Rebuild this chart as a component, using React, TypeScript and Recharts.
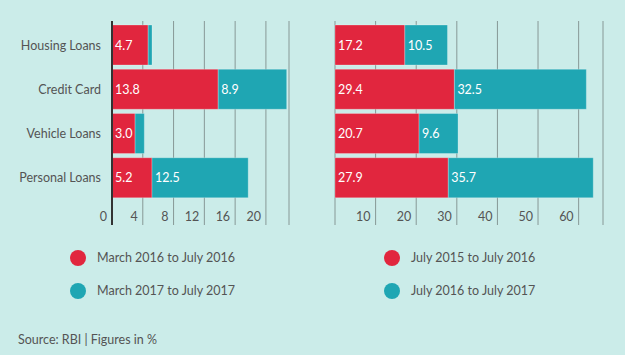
import React from 'react';
import { BarChart, Bar, XAxis, YAxis, CartesianGrid, LabelList } from 'recharts';

const categories = ['Housing Loans', 'Credit Card', 'Vehicle Loans', 'Personal Loans'];
const leftFirst = [4.7, 13.8, 3.0, 5.2];
const leftSecond = [0.5, 8.9, 1.2, 12.5];
const rightFirst = [17.2, 29.4, 20.7, 27.9];
const rightSecond = [10.5, 32.5, 9.6, 35.7];
const leftTicks = [0, 4, 8, 12, 16, 20];
const rightTicks = [10, 20, 30, 40, 50, 60];
const leftLegend = ['March 2016 to July 2016', 'March 2017 to July 2017'];
const rightLegend = ['July 2015 to July 2016', 'July 2016 to July 2017'];
const sourceText = 'Source: RBI | Figures in %';

const RED = '#e1263e';
const TEAL = '#1fa6b3';
const BG = '#cbece9';
const TEXT = '#545454';
const FONT = 'Lato, "Open Sans", sans-serif';
const FS = 12.5;

const leftData = categories.map((c, i) => ({ name: c, a: leftFirst[i], b: leftSecond[i] }));
const rightData = categories.map((c, i) => ({ name: c, a: rightFirst[i], b: rightSecond[i] }));

const BarLabel = (props: any) => {
  const { x, y, height, value } = props;
  if (value == null || value < 2) return null;
  return (
    <text x={x + 3} y={y + height / 2} dominantBaseline="central" fill="#ffffff" fontSize={FS} fontFamily={FONT}>
      {Number(value).toFixed(1)}
    </text>
  );
};

const XTick = (props: any) => {
  const { x, y, payload } = props;
  return (
    <text x={x - 5} y={y - 9} textAnchor="end" dominantBaseline="central" fill={TEXT} fontSize={FS} fontFamily={FONT}>
      {payload.value}
    </text>
  );
};

const Legend2 = ({ labels, left }: { labels: string[]; left: number }) => (
  <div style={{ position: 'absolute', left, top: 0 }}>
    {labels.map((l, i) => (
      <div key={l} style={{ position: 'absolute', left: 0, top: i === 0 ? 249.7 : 282.7, height: 16, width: 200, display: 'flex', alignItems: 'center' }}>
        <div style={{ width: 16, height: 16, borderRadius: 8, background: i === 0 ? RED : TEAL }} />
        <span style={{ marginLeft: 11, fontSize: FS, color: TEXT, fontFamily: FONT, whiteSpace: 'nowrap' }}>{l}</span>
      </div>
    ))}
  </div>
);

export default function App() {
  return (
    <div style={{ position: 'absolute', left: 0, top: 0, width: 625, height: 355, background: BG, overflow: 'hidden', fontFamily: FONT }}>
      <div style={{ position: 'absolute', left: 0, top: 0 }}>
        <BarChart width={310} height={240} data={leftData} layout="vertical" margin={{ top: 21, right: 21, bottom: 0, left: 0 }} barSize={40}>
          <CartesianGrid horizontal={false} vertical={true} stroke="#879896" strokeWidth={1} />
          <XAxis type="number" domain={[0, 23]} ticks={leftTicks} height={15} axisLine={false} tickLine={false} tickSize={0} tickMargin={0} tick={<XTick />} interval={0} />
          <YAxis type="category" dataKey="name" width={112} padding={{ top: 2, bottom: 25 }} axisLine={{ stroke: '#333333', strokeWidth: 2 }} tickLine={false} tickSize={0} tickMargin={11} tick={{ fill: TEXT, fontSize: FS, fontFamily: FONT }} />
          <Bar dataKey="a" stackId="s" fill={RED} stroke="rgba(255,255,255,0.25)" strokeWidth={1} isAnimationActive={false}>
            <LabelList dataKey="a" content={<BarLabel />} />
          </Bar>
          <Bar dataKey="b" stackId="s" fill={TEAL} stroke="rgba(255,255,255,0.25)" strokeWidth={1} isAnimationActive={false}>
            <LabelList dataKey="b" content={<BarLabel />} />
          </Bar>
        </BarChart>
      </div>
      <div style={{ position: 'absolute', left: 320, top: 0 }}>
        <BarChart width={305} height={240} data={rightData} layout="vertical" margin={{ top: 21, right: 22, bottom: 0, left: 15 }} barSize={40}>
          <CartesianGrid horizontal={false} vertical={true} stroke="#879896" strokeWidth={1} />
          <XAxis type="number" domain={[0, 66]} ticks={rightTicks} height={15} axisLine={false} tickLine={false} tickSize={0} tickMargin={0} tick={<XTick />} interval={0} />
          <YAxis type="category" dataKey="name" width={0} padding={{ top: 2, bottom: 25 }} axisLine={{ stroke: '#333333', strokeWidth: 2 }} tickLine={false} tick={false} />
          <Bar dataKey="a" stackId="s" fill={RED} stroke="rgba(255,255,255,0.25)" strokeWidth={1} isAnimationActive={false}>
            <LabelList dataKey="a" content={<BarLabel />} />
          </Bar>
          <Bar dataKey="b" stackId="s" fill={TEAL} stroke="rgba(255,255,255,0.25)" strokeWidth={1} isAnimationActive={false}>
            <LabelList dataKey="b" content={<BarLabel />} />
          </Bar>
        </BarChart>
      </div>
      <Legend2 labels={leftLegend} left={70} />
      <Legend2 labels={rightLegend} left={384} />
      <div style={{ position: 'absolute', left: 18, top: 332, fontSize: FS, color: TEXT, fontFamily: FONT, whiteSpace: 'nowrap' }}>{sourceText}</div>
    </div>
  );
}
